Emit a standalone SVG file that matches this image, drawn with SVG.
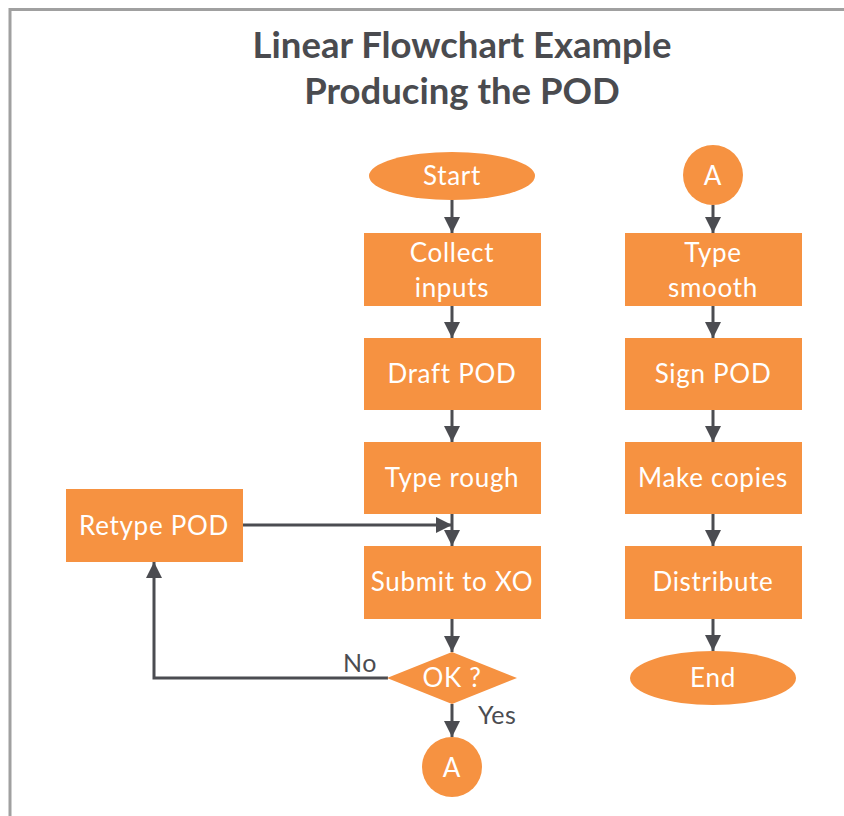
<svg xmlns="http://www.w3.org/2000/svg" width="844" height="816" viewBox="0 0 844 816">
  <style>
    .shape { fill: #F69241; }
    .label { fill: #FFFFFF; font-family: Lato, "Open Sans", "Liberation Sans", sans-serif; font-size: 26px; text-anchor: middle; letter-spacing: 0.7px; }
    .title { fill: #4A4B4F; font-family: Lato, "Liberation Sans", sans-serif; font-weight: bold; font-size: 36.5px; text-anchor: middle; }
    .edge { fill: none; stroke: #4B4C51; stroke-width: 3; }
    .edge-label { fill: #4B4C51; font-family: Lato, "Open Sans", "Liberation Sans", sans-serif; font-size: 25px; letter-spacing: 0.5px; }
  </style>
  <defs>
    <marker id="arrow" viewBox="0 0 16 16" refX="16" refY="8" markerWidth="16" markerHeight="16" markerUnits="userSpaceOnUse" orient="auto">
      <path d="M0,0 L16,8 L0,16 Z" fill="#4B4C51"/>
    </marker>
  </defs>

  <rect width="844" height="816" fill="#FFFFFF"/>
  <!-- page frame -->
  <path d="M10,816 V9.5 H844" fill="none" stroke="#A0A0A0" stroke-width="3"/>

  <g id="title">
    <text class="title" x="462" y="58">Linear Flowchart Example</text>
    <text class="title" x="462" y="104">Producing the POD</text>
  </g>

  <!-- connectors -->
  <g id="connectors">
    <path class="edge" d="M452,200 V233" marker-end="url(#arrow)"/>
    <path class="edge" d="M452,306 V338" marker-end="url(#arrow)"/>
    <path class="edge" d="M452,410 V442" marker-end="url(#arrow)"/>
    <path class="edge" d="M452,514 V546" marker-end="url(#arrow)"/>
    <path class="edge" d="M243,525 H452" marker-end="url(#arrow)"/>
    <path class="edge" d="M452,619 V652" marker-end="url(#arrow)"/>
    <path class="edge" d="M452,704 V737" marker-end="url(#arrow)"/>
    <path class="edge" d="M388,678 H154 V562" marker-end="url(#arrow)"/>
    <path class="edge" d="M713,205 V233" marker-end="url(#arrow)"/>
    <path class="edge" d="M713,306 V338" marker-end="url(#arrow)"/>
    <path class="edge" d="M713,410 V442" marker-end="url(#arrow)"/>
    <path class="edge" d="M713,514 V546" marker-end="url(#arrow)"/>
    <path class="edge" d="M713,619 V651" marker-end="url(#arrow)"/>
    <text class="edge-label" x="343" y="672">No</text>
    <text class="edge-label" x="478" y="724">Yes</text>
  </g>

  <!-- left column -->
  <g id="start">
    <ellipse class="shape" cx="452" cy="176" rx="83" ry="24"/>
    <text class="label" x="452" y="185">Start</text>
  </g>
  <g id="collect-inputs">
    <rect class="shape" x="364" y="233" width="177" height="73"/>
    <text class="label" x="452" y="262">Collect</text>
    <text class="label" x="452" y="297">inputs</text>
  </g>
  <g id="draft-pod">
    <rect class="shape" x="364" y="338" width="177" height="72"/>
    <text class="label" x="452" y="383">Draft POD</text>
  </g>
  <g id="type-rough">
    <rect class="shape" x="364" y="442" width="177" height="72"/>
    <text class="label" x="452" y="487">Type rough</text>
  </g>
  <g id="submit-to-xo">
    <rect class="shape" x="364" y="546" width="177" height="73"/>
    <text class="label" x="452" y="591">Submit to XO</text>
  </g>
  <g id="ok-decision">
    <polygon class="shape" points="452,652 517,678 452,704 387,678"/>
    <text class="label" x="452" y="687">OK ?</text>
  </g>
  <g id="connector-a-out">
    <circle class="shape" cx="452" cy="767" r="30"/>
    <text class="label" x="452" y="777">A</text>
  </g>
  <g id="retype-pod">
    <rect class="shape" x="66" y="489" width="177" height="73"/>
    <text class="label" x="154" y="535">Retype POD</text>
  </g>

  <!-- right column -->
  <g id="connector-a-in">
    <circle class="shape" cx="713" cy="175" r="30"/>
    <text class="label" x="713" y="185">A</text>
  </g>
  <g id="type-smooth">
    <rect class="shape" x="625" y="233" width="177" height="73"/>
    <text class="label" x="713" y="262">Type</text>
    <text class="label" x="713" y="297">smooth</text>
  </g>
  <g id="sign-pod">
    <rect class="shape" x="625" y="338" width="177" height="72"/>
    <text class="label" x="713" y="383">Sign POD</text>
  </g>
  <g id="make-copies">
    <rect class="shape" x="625" y="442" width="177" height="72"/>
    <text class="label" x="713" y="487">Make copies</text>
  </g>
  <g id="distribute">
    <rect class="shape" x="625" y="546" width="177" height="73"/>
    <text class="label" x="713" y="591">Distribute</text>
  </g>
  <g id="end">
    <ellipse class="shape" cx="713" cy="678" rx="83" ry="27"/>
    <text class="label" x="713" y="687">End</text>
  </g>
</svg>
